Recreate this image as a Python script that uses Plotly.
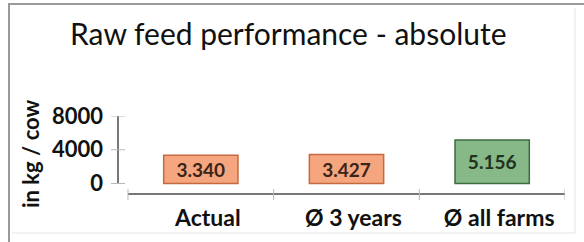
import plotly.graph_objects as go

categories = ["Actual", "Ø 3 years", "Ø all farms"]
values = [3340, 3427, 5156]
fill_colors = ["#F5A67F", "#F5A67F", "#87B887"]
line_colors = ["#C46A3E", "#C46A3E", "#3E6B40"]
text_colors = ["#3B2418", "#3B2418", "#1F3320"]
y_tickvals = [0, 4000, 8000]
y_ticktext = ["0", "4000", "8000"]
title_text = "Raw feed performance - absolute"
y_title = "in kg / cow"

W, H = 584, 242
L, R, T, B = 118, 19, 116, 48
PW, PH = W - L - R, H - T - B
FONT = "Lato"


def px(x):
    return (x - L) / PW


def py(y):
    return (H - B - y) / PH


fig = go.Figure()
fig.add_trace(go.Bar(
    x=categories, y=values,
    marker=dict(color=fill_colors, line=dict(color=line_colors, width=1.5)),
    width=0.51,
    texttemplate="%{y:,}",
    textposition="inside",
    insidetextanchor="middle",
    textangle=0,
    textfont=dict(family=FONT, size=19, color=text_colors, weight="bold"),
    hoverinfo="skip",
))

cat_unit = (565 - 128) / 3.0
xr0 = -0.5 - (128 - L) / cat_unit
y_per_px = 8000 / (183.5 - T)
yr0 = -(H - B - 183.5) * y_per_px

shapes = []
shapes.append(dict(type="line", xref="x", yref="paper", x0=-0.5, x1=2.5, y0=0, y1=0,
                   line=dict(color="#4a4a4a", width=1.5)))
shapes.append(dict(type="line", xref="paper", yref="y", x0=0, x1=0, y0=0, y1=8000,
                   line=dict(color="#4a4a4a", width=1.5)))
for xv in [-0.5, 0.5, 1.5, 2.5]:
    shapes.append(dict(type="line", xref="x", yref="paper", x0=xv, x1=xv, y0=py(200), y1=py(189),
                       line=dict(color="#b8b8b8", width=1)))
for yv in y_tickvals:
    shapes.append(dict(type="line", xref="paper", yref="y", x0=px(111), x1=px(125), y0=yv, y1=yv,
                       line=dict(color="#b8b8b8", width=1)))
# frame
shapes.append(dict(type="line", xref="paper", yref="paper", x0=px(8), x1=px(584), y0=py(4), y1=py(4),
                   line=dict(color="#999999", width=2)))
shapes.append(dict(type="line", xref="paper", yref="paper", x0=px(9), x1=px(9), y0=py(3), y1=py(242),
                   line=dict(color="#999999", width=2)))
shapes.append(dict(type="line", xref="paper", yref="paper", x0=px(575), x1=px(575), y0=py(8), y1=py(233),
                   line=dict(color="#e4e4e4", width=1)))
shapes.append(dict(type="line", xref="paper", yref="paper", x0=px(12), x1=px(575), y0=py(233), y1=py(233),
                   line=dict(color="#e4e4e4", width=1)))

annotations = [
    dict(text=title_text, xref="paper", yref="paper", x=px(288), y=py(33),
         xanchor="center", yanchor="middle", showarrow=False,
         font=dict(family=FONT, size=30, color="#111111")),
    dict(text=y_title, xref="paper", yref="paper", x=px(30), y=py(154),
         xanchor="center", yanchor="middle", showarrow=False, textangle=-90,
         font=dict(family=FONT, size=22, color="#111111", weight="bold")),
]

fig.update_layout(
    width=W, height=H,
    margin=dict(l=L, r=R, t=T, b=B, pad=0),
    paper_bgcolor="white", plot_bgcolor="white",
    separators=",.",
    showlegend=False,
    shapes=shapes,
    annotations=annotations,
    uniformtext=dict(minsize=19, mode="show"),
    xaxis=dict(range=[xr0, 2.5], showline=False, showgrid=False, zeroline=False,
               ticks="", tickfont=dict(family=FONT, size=23, color="#111111", weight="bold"),
               ticklabelstandoff=8, ticklabelshift=7, fixedrange=True),
    yaxis=dict(range=[yr0, 8000], tickvals=y_tickvals, ticktext=y_ticktext,
               showline=False, showgrid=False, zeroline=False, ticks="",
               tickfont=dict(family=FONT, size=22, color="#111111", weight="bold"),
               ticklabelstandoff=14, fixedrange=True),
)

fig.write_html("out.html", config={"displayModeBar": False},
               post_script="document.body.style.margin='0';")
